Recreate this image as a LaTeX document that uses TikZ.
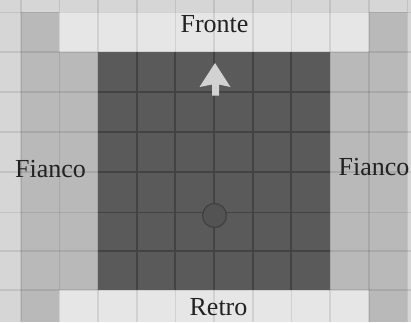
\documentclass[tikz,border=0pt]{standalone}
\usepackage{fontspec}
\setmainfont{Liberation Serif}
\definecolor{bgcol}{HTML}{D6D6D6}
\definecolor{bandcol}{HTML}{E6E6E6}
\definecolor{flankcol}{HTML}{B9B9B9}
\definecolor{darkcol}{HTML}{5A5A5A}
\definecolor{darkline}{HTML}{434343}
\definecolor{arrowcol}{HTML}{D2D2D2}
\definecolor{txtcol}{HTML}{222222}
\tikzset{
  lightgrid/.style={draw=black, opacity=0.09, line width=1.6pt},
  darkgrid/.style={draw=darkline, line width=1.8pt},
  label/.style={font=\fontsize{26}{28}\selectfont, text=txtcol, inner sep=0pt, anchor=base}
}
\begin{document}
\begin{tikzpicture}[x=1pt,y=-1pt]
\useasboundingbox (0,0) rectangle (411,322);
% background
\fill[bgcol] (0,0) rectangle (411,322);
% front and rear bands
\fill[bandcol] (59.3,12.3) rectangle (368.7,52);
\fill[bandcol] (59.3,290) rectangle (368.7,322);
% outer flank columns
\fill[flankcol] (20.7,12.3) rectangle (59.3,322);
\fill[flankcol] (368.7,12.3) rectangle (407.3,322);
% inner flank columns
\fill[flankcol] (59.3,52) rectangle (98,290);
\fill[flankcol] (330,52) rectangle (368.7,290);
% light grid
\foreach \gx in {20.7,59.3,98,136.7,175.3,214,252.7,291.3,330,368.7,407.3}
  \draw[lightgrid] (\gx,0) -- (\gx,322);
\foreach \gy in {12.3,52,92,132,172,212.5,251,290}
  \draw[lightgrid] (0,\gy) -- (411,\gy);
% dark square
\fill[darkcol] (98,52) rectangle (330,290);
\foreach \gx in {136.7,175.3,214,252.7,291.3}
  \draw[darkgrid] (\gx,52) -- (\gx,290);
\foreach \gy in {92,132,172,212.5,251}
  \draw[darkgrid] (98,\gy) -- (330,\gy);
% arrow
\fill[arrowcol] (215,63) -- (230.5,87) -- (219,84.5) -- (219,95.5) -- (212,95.5) -- (212,84.5) -- (199.5,87) -- cycle;
% circle
\node[circle, fill=darkcol!92!black, draw=black!75, line width=1.2pt, minimum size=24pt, inner sep=0pt] (unit) at (214.5,215.5) {};
% labels
\node[label] (fronte) at (214.5,32) {Fronte};
\node[label] (retro) at (218.5,315) {Retro};
\node[label] (fiancoL) at (50.5,177) {Fianco};
\node[label] (fiancoR) at (374,175.5) {Fianco};
\end{tikzpicture}
\end{document}
